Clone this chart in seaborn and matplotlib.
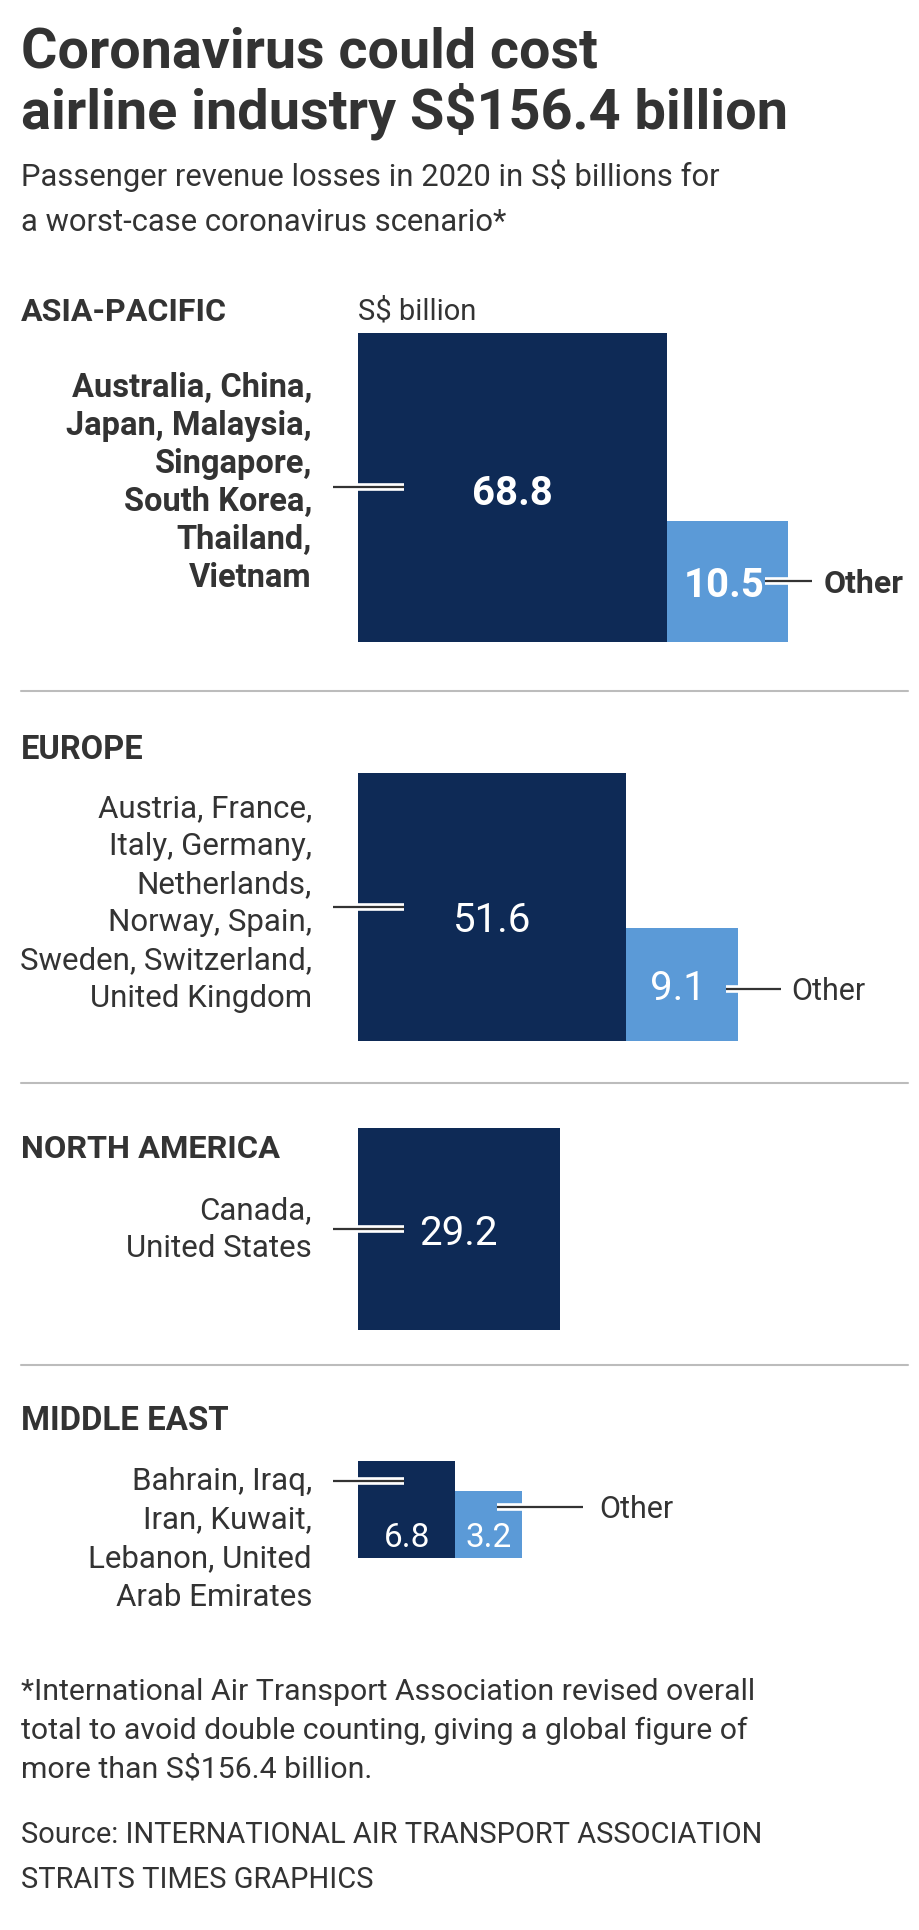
import numpy as np
import seaborn as sns
import matplotlib.pyplot as plt
import matplotlib.patheffects as pe

# data
regions = ['ASIA-PACIFIC', 'EUROPE', 'NORTH AMERICA', 'MIDDLE EAST']
main_values = [68.8, 51.6, 29.2, 6.8]
other_values = [10.5, 9.1, np.nan, 3.2]
country_labels = [
    ['Australia, China,', 'Japan, Malaysia,', 'Singapore,', 'South Korea,', 'Thailand,', 'Vietnam'],
    ['Austria, France,', 'Italy, Germany,', 'Netherlands,', 'Norway, Spain,', 'Sweden, Switzerland,', 'United Kingdom'],
    ['Canada,', 'United States'],
    ['Bahrain, Iraq,', 'Iran, Kuwait,', 'Lebanon, United', 'Arab Emirates'],
]
highlight = [True, False, False, False]

title = ['Coronavirus could cost', 'airline industry S$156.4 billion']
subtitle = ['Passenger revenue losses in 2020 in S$ billions for', 'a worst-case coronavirus scenario*']
footnote = ['*International Air Transport Association revised overall',
            'total to avoid double counting, giving a global figure of',
            'more than S$156.4 billion.']
source = ['Source: INTERNATIONAL AIR TRANSPORT ASSOCIATION', 'STRAITS TIMES GRAPHICS']

# layout (pixels, y downward)
W, H = 920, 1930
px_per_unit = 37.3          # square side per sqrt(S$ bn)
sq_left = 358
sq_bottom = [642, 1041, 1330, 1558]
header_y = [321, 759, 1158, 1430]
header_w = [206, 123, 260, 208]
country_y0 = [397, 817, 1219, 1490]
country_step = [38, 38, 38, 38.5]
label_dy = [3, 9, 0, 0]          # value label offset from square centre
conn_y = [487, 907, 1229, 1481]
other_conn = [(765, 812, 581), (726, 781, 989), None, (497, 583, 1507)]
other_text_x = [824, 791, None, 599]
separators = [691, 1083, 1365]

NAVY = '#0e2a56'
LIGHT = '#5b9ad7'
INK = '#333333'

sns.set_theme(style='white')
plt.rcParams['font.family'] = ['Roboto', 'DejaVu Sans']

fig = plt.figure(figsize=(W / 100, H / 100), dpi=100)
ax = fig.add_axes([0, 0, 1, 1])
ax.set_xlim(0, W)
ax.set_ylim(H, 0)
ax.axis('off')
renderer = fig.canvas.get_renderer()


def fit(t, width):
    bb = t.get_window_extent(renderer)
    t.set_fontsize(t.get_fontsize() * width / bb.width)
    return t.get_fontsize()


def connector(x0, x1, y):
    ax.plot([x0, x1], [y, y], color=INK, lw=1.6, solid_capstyle='butt', zorder=4,
            path_effects=[pe.Stroke(linewidth=5.5, foreground='white'), pe.Normal()])


# titles
t = ax.text(21, 68, title[0], fontsize=40, fontweight='bold', color=INK)
fit(t, 577)
t = ax.text(21, 128, title[1], fontsize=40, fontweight='bold', color=INK)
fit(t, 767)
t = ax.text(21, 186, subtitle[0], fontsize=20, color=INK)
sub_fs = fit(t, 698)
ax.text(21, 231, subtitle[1], fontsize=sub_fs, color=INK)

ax.text(sq_left, 320, 'S$ billion', fontsize=21, color=INK)

for i, region in enumerate(regions):
    bold = highlight[i]
    weight = 'bold' if bold else 'normal'
    t = ax.text(21, header_y[i], region, fontsize=25, fontweight='bold', color=INK)
    fit(t, header_w[i])

    side = np.sqrt(main_values[i]) * px_per_unit
    bottom = sq_bottom[i]
    ax.bar(sq_left, side, bottom=bottom - side, width=side, align='edge',
           color=NAVY, linewidth=0, zorder=2)
    cx = sq_left + side / 2
    if i == 3:
        ax.text(cx, bottom - 11, f'{main_values[i]}', fontsize=24, color='white',
                ha='center', va='baseline', zorder=5)
    else:
        ax.text(cx, bottom - side / 2 + label_dy[i], f'{main_values[i]}', fontsize=29,
                color='white', ha='center', va='center_baseline', fontweight=weight, zorder=5)

    if not np.isnan(other_values[i]):
        oside = np.sqrt(other_values[i]) * px_per_unit
        oleft = sq_left + side
        ax.bar(oleft, oside, bottom=bottom - oside, width=oside, align='edge',
               color=LIGHT, linewidth=0, zorder=2)
        ocx = oleft + oside / 2
        if i == 3:
            ax.text(ocx, bottom - 11, f'{other_values[i]}', fontsize=24, color='white',
                    ha='center', va='baseline', zorder=5)
        else:
            ax.text(ocx - 4, bottom - oside / 2, f'{other_values[i]}', fontsize=29,
                    color='white', ha='center', va='center_baseline', fontweight=weight, zorder=5)
        x0, x1, y = other_conn[i]
        connector(x0, x1, y)
        ax.text(other_text_x[i], y, 'Other', fontsize=23 if bold else 22, color=INK,
                fontweight=weight, ha='left', va='center_baseline')

    for j, line in enumerate(country_labels[i]):
        ax.text(312, country_y0[i] + j * country_step[i], line,
                fontsize=23.5 if bold else 22.5, color=INK,
                fontweight=weight, ha='right', va='baseline')
    connector(333, 404, conn_y[i])

for y in separators:
    ax.plot([21, 908], [y, y], color='#bcbcbc', lw=1.5, zorder=1)

t = ax.text(21, 1700, footnote[0], fontsize=19, color=INK)
fs = fit(t, 733)
for k, line in enumerate(footnote[1:], start=1):
    ax.text(21, 1700 + k * 39, line, fontsize=fs, color=INK)

t = ax.text(21, 1843, source[0], fontsize=fs, color=INK)
src_fs = fit(t, 744)
ax.text(21, 1888, source[1], fontsize=src_fs, color=INK)

fig.savefig('out.png', dpi=100)
